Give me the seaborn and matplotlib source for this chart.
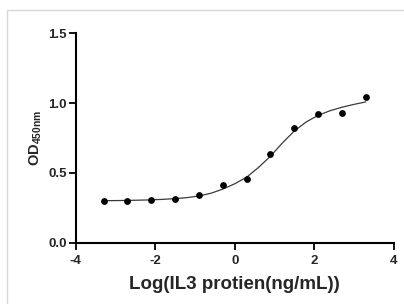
import numpy as np
import pandas as pd
from matplotlib import pyplot as plt
from matplotlib.patches import Rectangle
import seaborn as sns

# measured points
log_conc = [-3.3, -2.7, -2.1, -1.5, -0.9, -0.3, 0.3, 0.9, 1.5, 2.1, 2.7, 3.3]
od_450 = [0.302, 0.302, 0.310, 0.317, 0.340, 0.414, 0.460, 0.633, 0.821, 0.919, 0.926, 1.045]

# fitted curve
fit_x = [-3.3, -3.0, -2.7, -2.4, -2.1, -1.8, -1.5, -1.2, -0.9, -0.6, -0.3, 0.0,
         0.3, 0.6, 0.9, 1.2, 1.5, 1.8, 2.1, 2.4, 2.7, 3.0, 3.3]
fit_y = [0.302, 0.303, 0.304, 0.306, 0.308, 0.312, 0.317, 0.324, 0.336, 0.355, 0.385, 0.423,
         0.470, 0.540, 0.620, 0.715, 0.800, 0.865, 0.912, 0.945, 0.970, 0.990, 1.008]

x_ticks = [-4, -2, 0, 2, 4]
y_ticks = [0.0, 0.5, 1.0, 1.5]

points = pd.DataFrame({'x': log_conc, 'y': od_450})
curve = pd.DataFrame({'x': fit_x, 'y': fit_y})

sns.set_style('ticks')
plt.rcParams['font.family'] = ['Liberation Sans', 'DejaVu Sans']
plt.rcParams['font.weight'] = 'bold'
plt.rcParams['mathtext.fontset'] = 'custom'
plt.rcParams['mathtext.bf'] = 'Liberation Sans:bold'
plt.rcParams['mathtext.rm'] = 'Liberation Sans:bold'
plt.rcParams['mathtext.default'] = 'bf'

fig = plt.figure(figsize=(4.04, 3.04), dpi=100)
ax = fig.add_axes([0.1875, 0.2007, 0.787, 0.6907])

# light frame around the picture
fig.patches.append(Rectangle((7 / 404, -0.1), 1.2, 1 - 10 / 304 + 0.1,
                             transform=fig.transFigure, fill=False,
                             edgecolor='#d8d8d8', linewidth=1))

sns.lineplot(data=curve, x='x', y='y', ax=ax, color='#3a3a3a', linewidth=0.9)
sns.scatterplot(data=points, x='x', y='y', ax=ax, color='black', s=24,
                edgecolor='black', linewidth=0, zorder=3)

ax.set_xlim(-4, 4)
ax.set_ylim(0, 1.5)
ax.set_xticks(x_ticks)
ax.set_yticks(y_ticks)
ax.set_xticklabels([str(t) for t in x_ticks], fontweight='bold', fontsize=9.5)
ax.set_yticklabels([f'{t:.1f}' for t in y_ticks], fontweight='bold', fontsize=9.5)
ax.tick_params(axis='both', length=5, width=1.3, color='black')
ax.tick_params(axis='y', pad=1.5)
ax.tick_params(axis='x', pad=4)

for side in ['left', 'bottom']:
    ax.spines[side].set_linewidth(1.5)
    ax.spines[side].set_color('black')
sns.despine(ax=ax)

ax.set_xlabel('Log(IL3 protien(ng/mL))', fontsize=13.5, fontweight='bold', labelpad=6)
ax.set_ylabel(r'OD$_{450nm}$', fontsize=10.5, fontweight='bold', labelpad=3)

fig.savefig('out.png', dpi=100)
